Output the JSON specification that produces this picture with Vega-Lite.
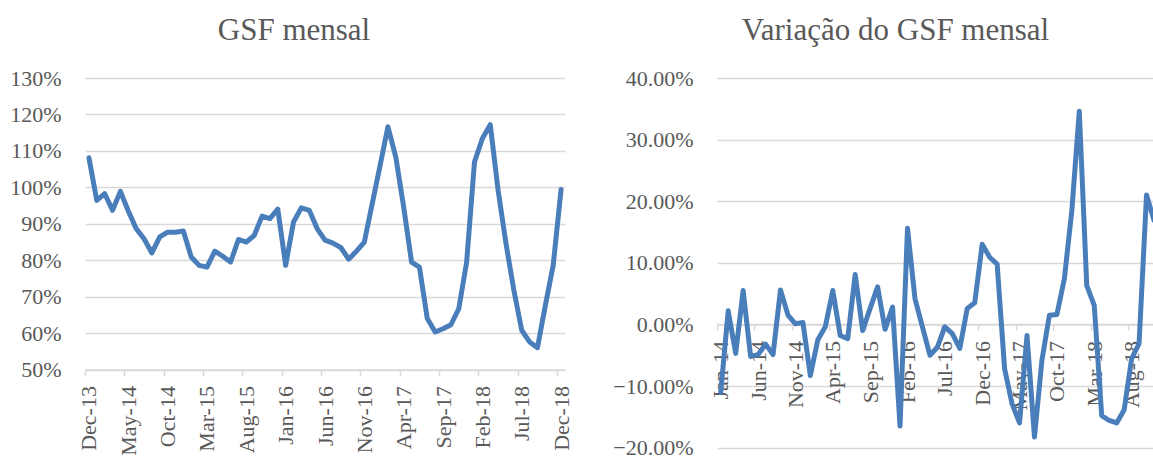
{
  "$schema": "https://vega.github.io/schema/vega-lite/v6.json",
  "padding": {"left": 9, "top": 15, "right": 0, "bottom": 0},
  "background": "white",
  "spacing": 39,
  "datasets": {
    "gsf": [
      {"i": 0, "m": "Dec-13", "v": 1.081}, {"i": 1, "m": "Jan-14", "v": 0.964}, {"i": 2, "m": "Feb-14", "v": 0.983},
      {"i": 3, "m": "Mar-14", "v": 0.937}, {"i": 4, "m": "Apr-14", "v": 0.989}, {"i": 5, "m": "May-14", "v": 0.935},
      {"i": 6, "m": "Jun-14", "v": 0.887}, {"i": 7, "m": "Jul-14", "v": 0.859}, {"i": 8, "m": "Aug-14", "v": 0.820},
      {"i": 9, "m": "Sep-14", "v": 0.864}, {"i": 10, "m": "Oct-14", "v": 0.877}, {"i": 11, "m": "Nov-14", "v": 0.877},
      {"i": 12, "m": "Dec-14", "v": 0.880}, {"i": 13, "m": "Jan-15", "v": 0.809}, {"i": 14, "m": "Feb-15", "v": 0.786},
      {"i": 15, "m": "Mar-15", "v": 0.781}, {"i": 16, "m": "Apr-15", "v": 0.825}, {"i": 17, "m": "May-15", "v": 0.811},
      {"i": 18, "m": "Jun-15", "v": 0.795}, {"i": 19, "m": "Jul-15", "v": 0.857}, {"i": 20, "m": "Aug-15", "v": 0.850},
      {"i": 21, "m": "Sep-15", "v": 0.868}, {"i": 22, "m": "Oct-15", "v": 0.921}, {"i": 23, "m": "Nov-15", "v": 0.914},
      {"i": 24, "m": "Dec-15", "v": 0.940}, {"i": 25, "m": "Jan-16", "v": 0.786}, {"i": 26, "m": "Feb-16", "v": 0.905},
      {"i": 27, "m": "Mar-16", "v": 0.944}, {"i": 28, "m": "Apr-16", "v": 0.937}, {"i": 29, "m": "May-16", "v": 0.887},
      {"i": 30, "m": "Jun-16", "v": 0.855}, {"i": 31, "m": "Jul-16", "v": 0.847}, {"i": 32, "m": "Aug-16", "v": 0.835},
      {"i": 33, "m": "Sep-16", "v": 0.803}, {"i": 34, "m": "Oct-16", "v": 0.825}, {"i": 35, "m": "Nov-16", "v": 0.850},
      {"i": 36, "m": "Dec-16", "v": 0.955}, {"i": 37, "m": "Jan-17", "v": 1.060}, {"i": 38, "m": "Feb-17", "v": 1.166},
      {"i": 39, "m": "Mar-17", "v": 1.083}, {"i": 40, "m": "Apr-17", "v": 0.946}, {"i": 41, "m": "May-17", "v": 0.795},
      {"i": 42, "m": "Jun-17", "v": 0.781}, {"i": 43, "m": "Jul-17", "v": 0.640}, {"i": 44, "m": "Aug-17", "v": 0.603},
      {"i": 45, "m": "Sep-17", "v": 0.612}, {"i": 46, "m": "Oct-17", "v": 0.623}, {"i": 47, "m": "Nov-17", "v": 0.667},
      {"i": 48, "m": "Dec-17", "v": 0.795}, {"i": 49, "m": "Jan-18", "v": 1.070}, {"i": 50, "m": "Feb-18", "v": 1.134},
      {"i": 51, "m": "Mar-18", "v": 1.172}, {"i": 52, "m": "Apr-18", "v": 0.992}, {"i": 53, "m": "May-18", "v": 0.846},
      {"i": 54, "m": "Jun-18", "v": 0.718}, {"i": 55, "m": "Jul-18", "v": 0.608}, {"i": 56, "m": "Aug-18", "v": 0.576},
      {"i": 57, "m": "Sep-18", "v": 0.560}, {"i": 58, "m": "Oct-18", "v": 0.676}, {"i": 59, "m": "Nov-18", "v": 0.786},
      {"i": 60, "m": "Dec-18", "v": 0.994}
    ],
    "var": [
      {"i": 0, "m": "Jan-14", "d": -0.110}, {"i": 1, "m": "Feb-14", "d": 0.022}, {"i": 2, "m": "Mar-14", "d": -0.047},
      {"i": 3, "m": "Apr-14", "d": 0.055}, {"i": 4, "m": "May-14", "d": -0.052}, {"i": 5, "m": "Jun-14", "d": -0.049},
      {"i": 6, "m": "Jul-14", "d": -0.032}, {"i": 7, "m": "Aug-14", "d": -0.049}, {"i": 8, "m": "Sep-14", "d": 0.056},
      {"i": 9, "m": "Oct-14", "d": 0.015}, {"i": 10, "m": "Nov-14", "d": 0.001}, {"i": 11, "m": "Dec-14", "d": 0.003},
      {"i": 12, "m": "Jan-15", "d": -0.083}, {"i": 13, "m": "Feb-15", "d": -0.025}, {"i": 14, "m": "Mar-15", "d": -0.004},
      {"i": 15, "m": "Apr-15", "d": 0.055}, {"i": 16, "m": "May-15", "d": -0.018}, {"i": 17, "m": "Jun-15", "d": -0.023},
      {"i": 18, "m": "Jul-15", "d": 0.081}, {"i": 19, "m": "Aug-15", "d": -0.010}, {"i": 20, "m": "Sep-15", "d": 0.026},
      {"i": 21, "m": "Oct-15", "d": 0.061}, {"i": 22, "m": "Nov-15", "d": -0.008}, {"i": 23, "m": "Dec-15", "d": 0.028},
      {"i": 24, "m": "Jan-16", "d": -0.165}, {"i": 25, "m": "Feb-16", "d": 0.156}, {"i": 26, "m": "Mar-16", "d": 0.042},
      {"i": 27, "m": "Apr-16", "d": -0.004}, {"i": 28, "m": "May-16", "d": -0.050}, {"i": 29, "m": "Jun-16", "d": -0.037},
      {"i": 30, "m": "Jul-16", "d": -0.004}, {"i": 31, "m": "Aug-16", "d": -0.015}, {"i": 32, "m": "Sep-16", "d": -0.039},
      {"i": 33, "m": "Oct-16", "d": 0.026}, {"i": 34, "m": "Nov-16", "d": 0.035}, {"i": 35, "m": "Dec-16", "d": 0.130},
      {"i": 36, "m": "Jan-17", "d": 0.109}, {"i": 37, "m": "Feb-17", "d": 0.098}, {"i": 38, "m": "Mar-17", "d": -0.072},
      {"i": 39, "m": "Apr-17", "d": -0.129}, {"i": 40, "m": "May-17", "d": -0.160}, {"i": 41, "m": "Jun-17", "d": -0.018},
      {"i": 42, "m": "Jul-17", "d": -0.183}, {"i": 43, "m": "Aug-17", "d": -0.058}, {"i": 44, "m": "Sep-17", "d": 0.015},
      {"i": 45, "m": "Oct-17", "d": 0.016}, {"i": 46, "m": "Nov-17", "d": 0.074}, {"i": 47, "m": "Dec-17", "d": 0.185},
      {"i": 48, "m": "Jan-18", "d": 0.346}, {"i": 49, "m": "Feb-18", "d": 0.063}, {"i": 50, "m": "Mar-18", "d": 0.031},
      {"i": 51, "m": "Apr-18", "d": -0.148}, {"i": 52, "m": "May-18", "d": -0.156}, {"i": 53, "m": "Jun-18", "d": -0.160},
      {"i": 54, "m": "Jul-18", "d": -0.139}, {"i": 55, "m": "Aug-18", "d": -0.056}, {"i": 56, "m": "Sep-18", "d": -0.031},
      {"i": 57, "m": "Oct-18", "d": 0.210}, {"i": 58, "m": "Nov-18", "d": 0.169}, {"i": 59, "m": "Dec-18", "d": 0.265}
    ]
  },
  "hconcat": [
    {
      "width": 480,
      "height": 291.6,
      "title": {"text": "GSF mensal", "dx": -31, "frame": "group", "baseline": "alphabetic", "offset": -4},
      "data": {"name": "gsf"},
      "mark": {"type": "line", "color": "#4a7ebb", "strokeWidth": 5, "strokeJoin": "round", "strokeCap": "round"},
      "encoding": {
        "x": {
          "field": "i", "type": "quantitative",
          "scale": {"domain": [-0.5, 60.5], "nice": false, "zero": false},
          "axis": {
            "title": null, "grid": false, "labelAngle": -90,
            "values": [0, 5, 10, 15, 20, 25, 30, 35, 40, 45, 50, 55, 60],
            "labelExpr": "['Dec-13','May-14','Oct-14','Mar-15','Aug-15','Jan-16','Jun-16','Nov-16','Apr-17','Sep-17','Feb-18','Jul-18','Dec-18'][datum.value / 5]",
            "tickOffset": -3.93, "labelOffset": 3.93
          }
        },
        "y": {
          "field": "v", "type": "quantitative",
          "scale": {"domain": [0.5, 1.3], "nice": false, "zero": false},
          "axis": {
            "title": null, "domain": false, "ticks": false, "tickSize": 0, "labelPadding": 24,
            "values": [0.5, 0.6, 0.7, 0.8, 0.9, 1.0, 1.1, 1.2, 1.3], "format": ".0%"
          }
        }
      }
    },
    {
      "width": 437,
      "height": 369.6,
      "title": {"text": "Variação do GSF mensal", "dx": -40, "frame": "group", "baseline": "alphabetic", "offset": -4},
      "data": {"name": "var"},
      "mark": {"type": "line", "color": "#4a7ebb", "strokeWidth": 5, "strokeJoin": "round", "strokeCap": "round", "clip": true},
      "encoding": {
        "x": {
          "field": "i", "type": "quantitative",
          "scale": {"domain": [-0.5, 58.0], "nice": false, "zero": false},
          "axis": {
            "title": null, "grid": false, "labelAngle": -90, "offset": -123.2,
            "values": [0, 5, 10, 15, 20, 25, 30, 35, 40, 45, 50, 55],
            "labelExpr": "['Jan-14','Jun-14','Nov-14','Apr-15','Sep-15','Feb-16','Jul-16','Dec-16','May-17','Oct-17','Mar-18','Aug-18'][datum.value / 5]",
            "tickOffset": -3.735, "labelOffset": 3.735
          }
        },
        "y": {
          "field": "d", "type": "quantitative",
          "scale": {"domain": [-0.2, 0.4], "nice": false, "zero": false},
          "axis": {
            "title": null, "domain": false, "ticks": false, "tickSize": 0, "labelPadding": 24,
            "values": [-0.2, -0.1, 0, 0.1, 0.2, 0.3, 0.4], "format": ".2%"
          }
        }
      }
    }
  ],
  "config": {
    "view": {"stroke": null},
    "font": "Liberation Serif",
    "title": {"font": "Liberation Serif", "fontSize": 31, "fontWeight": "normal", "color": "#595959", "anchor": "middle"},
    "axis": {
      "labelFont": "Liberation Serif", "labelFontSize": 22, "labelColor": "#595959",
      "domainColor": "#d9d9d9", "tickColor": "#d9d9d9", "gridColor": "#d9d9d9",
      "domainWidth": 1.5, "tickWidth": 1.5, "gridWidth": 1.5,
      "tickSize": 6, "labelPadding": 10, "labelFlush": false, "labelOverlap": false, "labelBound": false
    }
  }
}
